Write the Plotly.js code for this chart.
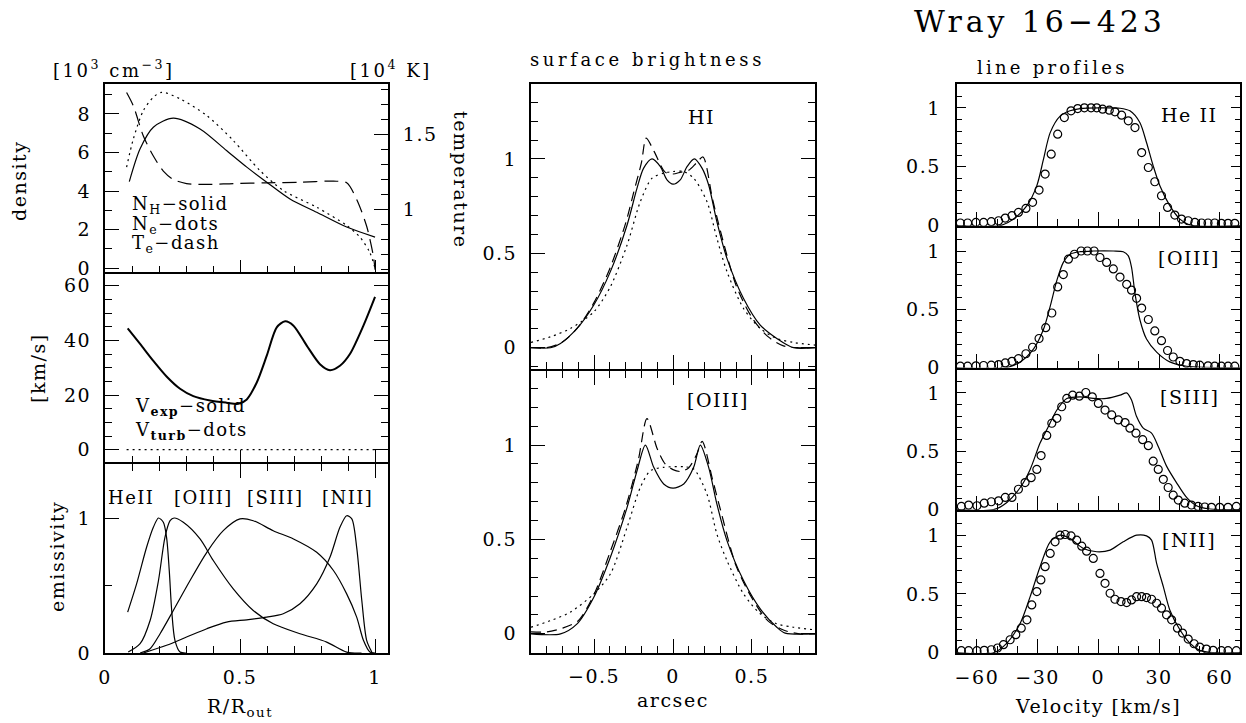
<!DOCTYPE html>
<html><head><meta charset="utf-8">
<script src="https://cdn.plot.ly/plotly-3.0.1.min.js"></script>
<style>
html,body{margin:0;padding:0;background:#fff;}
#chart{width:1246px;height:723px;}
svg text{letter-spacing:0.08em;}
</style></head><body><div id="chart"></div><script>
// ---------- Left column: physical structure vs R/R_out ----------
const rNH   = [0.09,0.13,0.179,0.253,0.352,0.45,0.525,0.599,0.685,0.784,0.895,1.0];
const nH    = [4.49,6.19,7.31,7.78,7.22,6.1,5.24,4.46,3.59,2.9,2.13,1.61];
const rNe   = [0.08,0.105,0.142,0.179,0.21,0.278,0.377,0.475,0.574,0.66,0.784,0.895,0.944,0.98,1.0];
const nE    = [5.24,6.7,8.17,8.86,9.12,8.78,7.91,6.62,5.06,4.03,3.16,2.21,1.61,0.83,0];
const rTe   = [0.08,0.105,0.142,0.179,0.216,0.253,0.302,0.377,0.475,0.6,0.722,0.846,0.895,0.932,0.969,0.994,1.0];
const tE    = [1.778,1.689,1.489,1.356,1.256,1.2,1.173,1.167,1.173,1.178,1.182,1.189,1.178,1.067,0.889,0.689,0.60];
const rVexp = [0.084,0.13,0.179,0.228,0.278,0.327,0.389,0.45,0.494,0.525,0.562,0.599,0.636,0.667,0.698,0.747,0.796,0.833,0.87,0.907,0.957,1.0];
const vExp  = [44.4,38.7,32.5,26.8,22.3,19.6,18.0,17.2,16.8,18.4,24.6,34.4,44.8,47.0,45.4,38.1,31.3,29.1,30.7,35.0,45.4,55.9];
const rVturb = [0.08,1.0];
const vTurb  = [0,0];
const rHeII = [0.084,0.117,0.154,0.179,0.198,0.216,0.228,0.238,0.247,0.259,0.278,0.3];
const eHeII = [0.303,0.512,0.783,0.931,1.0,0.968,0.857,0.61,0.315,0.094,0.007,0];
const rOIII = [0.086,0.13,0.167,0.198,0.222,0.241,0.256,0.29,0.352,0.401,0.475,0.549,0.623,0.722,0.821,0.895,0.95];
const eOIII = [0.007,0.069,0.241,0.537,0.857,0.98,1.0,0.968,0.845,0.685,0.475,0.315,0.217,0.143,0.081,0.007,0];
const rSIII = [0.13,0.167,0.204,0.253,0.315,0.377,0.438,0.5,0.549,0.623,0.698,0.784,0.846,0.895,0.932,0.957,0.981,1.0];
const eSIII = [0,0.032,0.143,0.315,0.537,0.746,0.906,0.993,0.98,0.906,0.845,0.746,0.611,0.438,0.266,0.094,0.007,0];
const rNII  = [0.142,0.228,0.302,0.377,0.45,0.525,0.599,0.66,0.722,0.784,0.833,0.87,0.895,0.914,0.932,0.951,0.969,0.988];
const eNII  = [0,0.057,0.118,0.18,0.229,0.246,0.266,0.291,0.365,0.512,0.709,0.931,1.017,0.993,0.783,0.389,0.094,0.007];

// ---------- Middle column: surface brightness vs arcsec ----------
const hiSolidX = [-0.9,-0.776,-0.713,-0.608,-0.502,-0.397,-0.291,-0.228,-0.186,-0.133,-0.08,-0.038,0,0.046,0.089,0.135,0.184,0.226,0.278,0.342,0.447,0.553,0.658,0.764,0.9];
const hiSolidY = [0,0,0.023,0.102,0.226,0.403,0.65,0.845,0.951,1.0,0.959,0.889,0.866,0.889,0.959,1.0,0.951,0.862,0.668,0.473,0.261,0.12,0.049,0,0];
const hiDashX  = [-0.9,-0.8,-0.7,-0.6,-0.5,-0.4,-0.3,-0.25,-0.2,-0.17,-0.12,-0.05,0,0.05,0.1,0.15,0.19,0.25,0.3,0.4,0.5,0.6,0.7,0.8,0.9];
const hiDashY  = [0,0,0.03,0.11,0.24,0.42,0.66,0.82,0.98,1.11,1.04,0.93,0.92,0.93,0.94,0.98,1.01,0.79,0.62,0.33,0.16,0.06,0.01,0,0];
const hiDotX   = [-0.9,-0.776,-0.65,-0.502,-0.397,-0.291,-0.207,-0.133,-0.059,0,0.068,0.131,0.215,0.278,0.342,0.447,0.553,0.658,0.764,0.9];
const hiDotY   = [0.028,0.058,0.102,0.19,0.323,0.544,0.774,0.898,0.924,0.933,0.933,0.898,0.774,0.58,0.403,0.208,0.102,0.049,0.028,0.014];
const o3SolidX = [-0.9,-0.713,-0.608,-0.502,-0.397,-0.291,-0.228,-0.175,-0.122,-0.059,0,0.068,0.131,0.173,0.226,0.278,0.342,0.447,0.553,0.658,0.711,0.9];
const o3SolidY = [0,0,0.053,0.194,0.406,0.67,0.864,1.0,0.882,0.794,0.772,0.794,0.882,1.0,0.882,0.688,0.494,0.282,0.132,0.035,0.004,0];
const o3DashX  = [-0.9,-0.8,-0.7,-0.6,-0.5,-0.4,-0.3,-0.22,-0.165,-0.1,-0.05,0,0.05,0.1,0.15,0.185,0.25,0.3,0.4,0.5,0.6,0.7,0.8,0.9];
const o3DashY  = [0.01,0.01,0.03,0.07,0.21,0.43,0.67,0.92,1.14,0.98,0.9,0.87,0.86,0.88,0.95,1.02,0.82,0.66,0.36,0.19,0.07,0.02,0,0];
const o3DotX   = [-0.9,-0.776,-0.65,-0.502,-0.397,-0.291,-0.207,-0.143,-0.059,0.068,0.131,0.215,0.278,0.342,0.447,0.553,0.658,0.764,0.9];
const o3DotY   = [0.035,0.07,0.115,0.212,0.317,0.564,0.776,0.864,0.882,0.885,0.873,0.741,0.529,0.388,0.212,0.106,0.053,0.035,0.021];

// ---------- Right column: line profiles vs velocity ----------
const heModV = [-70,-48.5,-41.9,-35.3,-30.4,-27.1,-23.8,-18.9,-14,-9,0.8,10.7,15.6,20.5,23.8,27.1,30.4,35.3,40.3,45.2,70];
const heModI = [0,0,0.056,0.17,0.34,0.565,0.79,0.93,0.975,0.994,1.0,0.997,0.975,0.876,0.706,0.508,0.339,0.17,0.056,0.006,0];
const heObsV = [-68.2,-64.6,-60.5,-56.7,-52.9,-49.3,-46.0,-42.7,-39.5,-35.8,-32.5,-29.3,-26.3,-23.3,-20.1,-16.8,-13.5,-10.2,-6.9,-3.6,-0.8,2.1,5.4,8.2,11.5,14.8,18.1,21.4,24.7,27.9,31.2,34.2,37.8,41.1,44.4,47.7,51.0,54.2,57.5,60.8,64.1,67.4];
const heObsI = [0.023,0.023,0.028,0.028,0.034,0.042,0.065,0.085,0.113,0.147,0.198,0.302,0.438,0.607,0.777,0.918,0.975,0.994,1.0,1.0,1.0,0.989,0.98,0.966,0.938,0.89,0.833,0.621,0.494,0.373,0.254,0.155,0.09,0.056,0.042,0.028,0.023,0.023,0.023,0.02,0.02,0.02];
const o3ModV = [-70,-45,-38.6,-32,-27.1,-23.8,-20.5,-17.3,-14,-9,-2.5,7.4,12.3,14.8,16.4,18.1,20.5,23.8,28.8,35.3,43.6,70];
const o3ModI = [0,0,0.048,0.16,0.328,0.524,0.748,0.902,0.972,0.994,1.0,1.0,0.994,0.958,0.86,0.636,0.412,0.244,0.132,0.048,0.011,0];
const o3ObsV = [-68.2,-64.6,-60.5,-56.7,-52.9,-49.3,-46.0,-42.7,-39.5,-35.8,-32.5,-29.3,-26.0,-23.0,-20.1,-17.3,-14.8,-11.8,-8.5,-5.4,-2.1,0.8,4.1,7.4,10.7,14.0,16.4,18.9,21.4,24.7,27.9,31.2,34.2,37.0,40.3,43.6,46.9,50.1,54.2,57.5,60.8,64.1,67.4];
const o3ObsI = [0.011,0.011,0.014,0.017,0.02,0.025,0.039,0.053,0.076,0.118,0.174,0.249,0.342,0.468,0.692,0.798,0.93,0.972,1.0,1.0,1.0,0.944,0.902,0.846,0.776,0.714,0.664,0.594,0.51,0.412,0.314,0.23,0.146,0.09,0.053,0.034,0.025,0.02,0.014,0.011,0.011,0.011,0.011];
const s3ModV = [-70,-51.8,-45.2,-38.6,-33.7,-28.8,-25.5,-20.5,-15.6,-9,-2.5,4.1,10.7,14,16.4,18.9,22.2,26.3,29.6,33.7,38.6,43.6,48.5,55.1,70];
const s3ModI = [0,0,0.062,0.19,0.345,0.57,0.684,0.853,0.952,0.966,0.952,0.952,0.98,1.0,0.938,0.797,0.698,0.655,0.542,0.373,0.232,0.105,0.034,0.006,0];
const s3ObsV = [-67.7,-64.1,-60.0,-56.4,-52.9,-49.3,-46.0,-42.7,-39.5,-36.2,-33.2,-30.4,-28.3,-25.5,-23.0,-20.5,-18.1,-15.6,-12.7,-9.4,-6.2,-3.0,0,3.3,6.6,9.9,13.2,15.6,18.6,21.9,24.7,27.1,29.6,32.1,34.5,37.0,39.5,42.7,46.0,49.3,52.6,55.9,60.0,64.1,68.2];
const s3ObsI = [0.028,0.04,0.034,0.056,0.068,0.076,0.105,0.105,0.175,0.232,0.274,0.345,0.463,0.636,0.74,0.782,0.881,0.952,0.98,0.972,1.003,0.966,0.91,0.853,0.811,0.768,0.746,0.698,0.655,0.599,0.548,0.415,0.345,0.26,0.19,0.124,0.082,0.056,0.04,0.028,0.023,0.02,0.02,0.02,0.028];
const n2ModV = [-70,-51.8,-45.2,-38.6,-33.7,-28.8,-23.8,-18.9,-14,-7.4,-0.8,5.8,12.3,18.9,23.8,26.3,28.8,32.1,35.3,40.3,45.2,50.1,55.1,70];
const n2ModI = [0,0,0.082,0.251,0.477,0.732,0.944,1.0,0.972,0.887,0.859,0.873,0.944,1.0,0.994,0.958,0.76,0.562,0.364,0.195,0.082,0.02,0.003,0];
const n2ObsV = [-67.7,-64.1,-60.0,-56.4,-52.9,-49.8,-46.9,-43.6,-40.8,-38.1,-35.3,-32.9,-30.4,-28.4,-26.3,-23.8,-21.4,-18.9,-16.4,-13.5,-10.7,-8.2,-5.8,-2.5,0.8,3.3,5.8,8.2,11.2,14.0,16.4,18.9,21.4,23.8,26.3,28.8,31.2,33.7,36.2,39.1,41.6,44.4,47.3,50.1,53.4,56.7,60.8,64.1,68.2];
const n2ObsI = [0.017,0.017,0.017,0.02,0.025,0.04,0.068,0.11,0.153,0.209,0.28,0.407,0.52,0.619,0.732,0.845,0.944,1.0,1.006,0.994,0.958,0.907,0.864,0.802,0.675,0.59,0.506,0.455,0.435,0.427,0.449,0.477,0.477,0.469,0.455,0.421,0.379,0.322,0.28,0.209,0.167,0.116,0.076,0.048,0.031,0.02,0.017,0.017,0.017];

// ---------- Text ----------
const mainTitle = 'Wray 16\u2212423';
const emisLabels = ['HeII','[OIII]','[SIII]','[NII]'];
const profLabels = ['He II','[OIII]','[SIII]','[NII]'];
const sbLabels = ['HI','[OIII]'];

// ---------- Layout helpers ----------
const W = 1246, H = 723;
const FAM = '"DejaVu Serif", serif';
const FS = 19;
const dX = (a, b) => [a / W, b / W];
const dY = (top, bot) => [1 - bot / H, 1 - top / H];
function ax(o) {
  const base = {
    showline: true, linecolor: '#000', linewidth: 2, showgrid: false, zeroline: false,
    ticks: 'inside', tickcolor: '#000', tickwidth: 1, ticklen: 13,
    tickfont: {family: FAM, size: FS, color: '#000'},
    fixedrange: true
  };
  const r = Object.assign(base, o);
  if (o.minorDtick) {
    r.minor = {dtick: o.minorDtick, ticks: 'inside', ticklen: o.minorLen || 7, tickcolor: '#000', tickwidth: 1, showgrid: false};
    delete r.minorDtick; delete r.minorLen;
  }
  return r;
}
const LX = dX(105, 388), MX = dX(531, 815), RX = dX(956.7, 1240);

const layout = {
  width: W, height: H, margin: {l: 0, r: 0, t: 0, b: 0},
  paper_bgcolor: '#fff', plot_bgcolor: 'rgba(0,0,0,0)', showlegend: false,
  font: {family: FAM, size: FS, color: '#000'},
  // left top
  xaxis:  ax({domain: LX, anchor: 'y',  range: [0, 1.048], dtick: 0.5, minorDtick: 0.1, ticklen: 12, minorLen: 6, showticklabels: false, mirror: true}),
  yaxis:  ax({domain: dY(84, 272), anchor: 'x', range: [-0.2, 9.55], dtick: 2, minorDtick: 1, ticklen: 14, ticklabelstandoff: 8}),
  yaxis2: ax({overlaying: 'y', anchor: 'x', side: 'right', range: [0.585, 1.835], tick0: 0, dtick: 0.5, minorDtick: 0.1, ticklen: 14, ticklabelstandoff: 9}),
  // left middle
  xaxis3: ax({domain: LX, anchor: 'y3', range: [0, 1.048], dtick: 0.5, minorDtick: 0.1, ticklen: 12, minorLen: 6, showticklabels: false, mirror: true}),
  yaxis3: ax({domain: dY(274, 462), anchor: 'x3', range: [-4.5, 64.3], dtick: 20, minorDtick: 5, ticklen: 14, mirror: 'ticks', ticklabelstandoff: 8}),
  // left bottom
  xaxis4: ax({domain: LX, anchor: 'y4', range: [0, 1.048], dtick: 0.5, minorDtick: 0.1, ticklen: 14, minorLen: 7, mirror: 'ticks', ticklabelstandoff: 6}),
  yaxis4: ax({domain: dY(464, 653), anchor: 'x4', range: [0, 1.4], dtick: 1, minorDtick: 0.5, ticklen: 14, mirror: true, ticklabelstandoff: 8}),
  // middle
  xaxis5: ax({domain: MX, anchor: 'y5', range: [-0.9, 0.9], dtick: 0.5, minorDtick: 0.1, ticklen: 14, showticklabels: false, mirror: true}),
  yaxis5: ax({domain: dY(84.3, 368.5), anchor: 'x5', range: [-0.11, 1.395], dtick: 0.5, minorDtick: 0.1, ticklen: 14, mirror: 'ticks', ticklabelstandoff: 8}),
  xaxis6: ax({domain: MX, anchor: 'y6', range: [-0.9, 0.9], dtick: 0.5, minorDtick: 0.1, ticklen: 14, mirror: 'ticks', ticklabelstandoff: 5}),
  yaxis6: ax({domain: dY(370.5, 652.7), anchor: 'x6', range: [-0.1, 1.395], dtick: 0.5, minorDtick: 0.1, ticklen: 14, mirror: 'ticks', ticklabelstandoff: 8}),
  annotations: []
};
// right column panels (2px gap so the shared borders coincide)
const rTops = [84.3, 227.7, 369.5, 511.7];
const rBots = [225.7, 367.5, 509.7, 652.7];
for (let i = 0; i < 4; i++) {
  const n = 7 + i;
  layout['xaxis' + n] = ax({domain: RX, anchor: 'y' + n, range: [-70, 70], dtick: 30, minorDtick: 10, ticklen: 14, minorLen: 7, mirror: true, showticklabels: i === 3, ticklabelstandoff: 6});
  layout['yaxis' + n] = ax({domain: dY(rTops[i], rBots[i]), anchor: 'x' + n, range: [0, 1.2], dtick: 0.5, minorDtick: 0.1, ticklen: 9, minorLen: 5, mirror: 'ticks', ticklabelstandoff: 10});
}

function ann(text, px, py, extra) {
  return Object.assign({text: text, xref: 'paper', yref: 'paper', x: px / W, y: 1 - py / H,
    xanchor: 'center', yanchor: 'middle', showarrow: false, font: {family: FAM, size: FS, color: '#000'}}, extra || {});
}
const f = (s) => ({family: FAM, size: s, color: '#000'});
const sp = (t, em) => '<span style="letter-spacing:' + em + 'em">' + t + '</span>';
const A = layout.annotations;
A.push(ann(sp(mainTitle, 0.13), 1040, 21, {font: f(30)}));
A.push(ann(sp('surface brightness', 0.2), 647, 59, {font: f(18)}));
A.push(ann(sp('line profiles', 0.18), 1052, 67, {font: f(18)}));
A.push(ann(sp('[10<sup>3</sup> cm<sup>\u22123</sup>]', 0.14), 114, 69, {font: f(18)}));
A.push(ann(sp('[10<sup>4</sup> K]', 0.14), 391, 69, {font: f(18)}));
A.push(ann('density', 19, 181, {textangle: -90}));
A.push(ann('temperature', 461, 180, {textangle: 90}));
A.push(ann('[km/s]', 38, 368, {textangle: -90}));
A.push(ann('emissivity', 57, 557, {textangle: -90}));
A.push(ann('R/R<sub>out</sub>', 240, 707));
A.push(ann('arcsec', 673, 700));
A.push(ann('Velocity [km/s]', 1098, 706));
A.push(ann('N<sub>H</sub>\u2212solid', 130, 205, {xanchor: 'left', font: f(18)}));
A.push(ann('N<sub>e</sub>\u2212dots', 130, 225, {xanchor: 'left', font: f(18)}));
A.push(ann('T<sub>e</sub>\u2212dash', 130, 244, {xanchor: 'left', font: f(18)}));
A.push(ann('V<sub><b>exp</b></sub>\u2212solid', 133, 407, {xanchor: 'left', font: f(18)}));
A.push(ann('V<sub><b>turb</b></sub>\u2212dots', 133, 431, {xanchor: 'left', font: f(18)}));
const emisX = [131, 203, 275, 347];
emisLabels.forEach((t, i) => A.push(ann(t, emisX[i], 497, {font: f(18)})));
A.push(ann(sbLabels[0], 701, 117));
A.push(ann(sbLabels[1], 718, 400));
const profY = [115, 258, 397, 540];
profLabels.forEach((t, i) => A.push(ann(t, 1189, profY[i])));

// ---------- Traces ----------
const SM = 0.8;
function line(x, y, xa, ya, opts) {
  return {type: 'scatter', mode: 'lines', x: x, y: y, xaxis: xa, yaxis: ya, hoverinfo: 'skip',
    line: Object.assign({color: '#000', width: 1.2, shape: 'spline', smoothing: SM}, (opts && opts.line) || {})};
}
function pts(x, y, xa, ya) {
  return {type: 'scatter', mode: 'markers', x: x, y: y, xaxis: xa, yaxis: ya, hoverinfo: 'skip',
    marker: {symbol: 'circle-open', size: 8, color: '#000', line: {width: 1.2, color: '#000'}}};
}
const DOT = '2px,4px';
const traces = [
  line(rNH, nH, 'x', 'y'),
  line(rNe, nE, 'x', 'y', {line: {dash: DOT}}),
  line(rTe, tE, 'x', 'y2', {line: {dash: '14px,7px'}}),
  line(rVexp, vExp, 'x3', 'y3', {line: {width: 2}}),
  line(rVturb, vTurb, 'x3', 'y3', {line: {dash: DOT, shape: 'linear'}}),
  line(rHeII, eHeII, 'x4', 'y4'),
  line(rOIII, eOIII, 'x4', 'y4'),
  line(rSIII, eSIII, 'x4', 'y4'),
  line(rNII, eNII, 'x4', 'y4'),
  line(hiSolidX, hiSolidY, 'x5', 'y5'),
  line(hiDashX, hiDashY, 'x5', 'y5', {line: {dash: '10px,6px'}}),
  line(hiDotX, hiDotY, 'x5', 'y5', {line: {dash: DOT}}),
  line(o3SolidX, o3SolidY, 'x6', 'y6'),
  line(o3DashX, o3DashY, 'x6', 'y6', {line: {dash: '10px,6px'}}),
  line(o3DotX, o3DotY, 'x6', 'y6', {line: {dash: DOT}}),
  line(heModV, heModI, 'x7', 'y7'), pts(heObsV, heObsI, 'x7', 'y7'),
  line(o3ModV, o3ModI, 'x8', 'y8'), pts(o3ObsV, o3ObsI, 'x8', 'y8'),
  line(s3ModV, s3ModI, 'x9', 'y9'), pts(s3ObsV, s3ObsI, 'x9', 'y9'),
  line(n2ModV, n2ModI, 'x10', 'y10'), pts(n2ObsV, n2ObsI, 'x10', 'y10')
];
Plotly.newPlot('chart', traces, layout, {staticPlot: true, displayModeBar: false});
</script></body></html>
